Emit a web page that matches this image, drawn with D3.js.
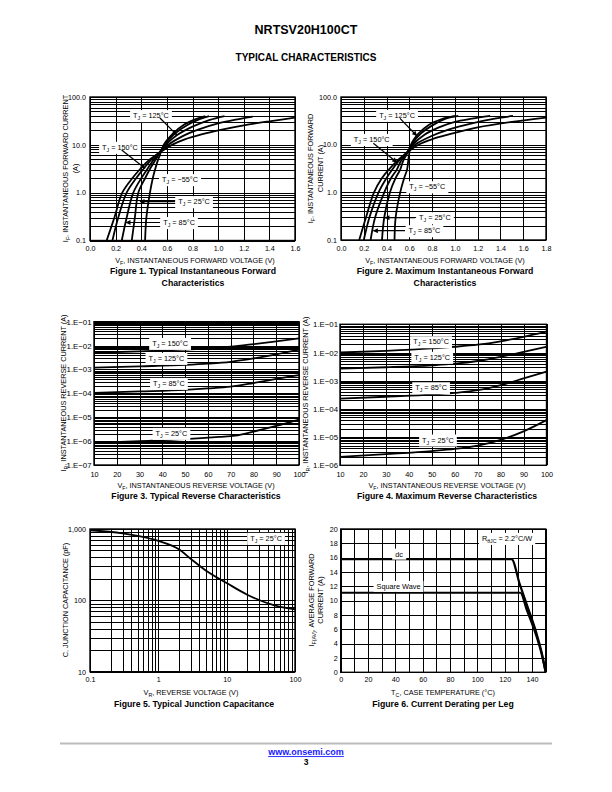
<!DOCTYPE html>
<html><head><meta charset="utf-8">
<script src="https://cdn.jsdelivr.net/npm/d3@7"></script>
<style>
body{margin:0;background:#fff}
svg{display:block}
</style>
</head><body>
<svg id="c" width="612" height="792"></svg>
<script>
// ---------------- DATA ----------------
// Figure 1: typical forward characteristics [VF (V), IF (A)]
const fig1T150 = [[0.13,0.1],[0.19,0.3],[0.252,1],[0.33,2],[0.395,3.2],[0.46,4.8],[0.51,6],[0.64,10],[0.74,13],[0.87,16.5],[1.02,20.5],[1.2,25.5],[1.4,31],[1.6,37]];
const fig1T125 = [[0.175,0.1],[0.22,0.3],[0.286,1],[0.36,2],[0.42,3.2],[0.475,4.8],[0.515,6],[0.61,10],[0.72,15],[0.85,21],[1.0,28],[1.15,34],[1.27,39]];
const fig1T85  = [[0.248,0.1],[0.286,0.3],[0.338,1],[0.40,2],[0.45,3.2],[0.495,4.8],[0.525,6],[0.59,10],[0.68,16],[0.80,24],[0.93,33],[1.05,40]];
const fig1T25  = [[0.326,0.1],[0.35,0.3],[0.377,1],[0.43,2],[0.47,3.2],[0.51,4.8],[0.533,6],[0.58,10],[0.66,17],[0.76,26],[0.86,35],[0.93,40]];
const fig1Tm55 = [[0.43,0.1],[0.44,0.3],[0.468,1],[0.49,2],[0.51,3.2],[0.53,4.8],[0.545,6],[0.575,10],[0.645,17],[0.73,26],[0.82,34],[0.90,40]];
// Figure 2: maximum forward characteristics
const fig2T150 = [[0.16,0.1],[0.22,0.3],[0.29,1],[0.36,2],[0.42,3],[0.49,4.5],[0.55,6],[0.68,10],[0.82,13.5],[0.99,17.5],[1.2,23],[1.5,30],[1.8,37]];
const fig2T125 = [[0.2,0.1],[0.25,0.3],[0.33,1],[0.40,2],[0.45,3],[0.505,4.5],[0.555,6],[0.65,10],[0.79,15],[0.95,21],[1.15,28],[1.35,35],[1.51,40]];
const fig2T85  = [[0.26,0.1],[0.3,0.3],[0.38,1],[0.44,2],[0.49,3],[0.525,4.5],[0.565,6],[0.63,10],[0.73,16],[0.86,23],[1.0,30],[1.15,35],[1.31,40]];
const fig2T25  = [[0.36,0.1],[0.38,0.3],[0.43,1],[0.48,2],[0.52,3],[0.545,4.5],[0.572,6],[0.62,10],[0.70,17],[0.81,26],[0.92,35],[1.03,40]];
const fig2Tm55 = [[0.47,0.1],[0.48,0.3],[0.52,1],[0.555,2],[0.58,3],[0.59,4.5],[0.597,6],[0.615,10],[0.68,17],[0.77,26],[0.88,34],[1.0,40]];
// Figure 3: typical reverse characteristics [VR (V), IR (A)]
const fig3T150 = [[10,5e-3],[30,5.7e-3],[50,6.8e-3],[60,7.6e-3],[70,9e-3],[80,1.15e-2],[90,1.5e-2],[100,2e-2]];
const fig3T125 = [[10,1.2e-3],[30,1.35e-3],[50,1.55e-3],[60,1.75e-3],[70,2.1e-3],[80,2.9e-3],[90,4.3e-3],[100,6.8e-3]];
const fig3T85  = [[10,1.05e-4],[30,1.2e-4],[50,1.4e-4],[60,1.6e-4],[70,1.9e-4],[80,2.7e-4],[90,4e-4],[100,5.8e-4]];
const fig3T25  = [[10,8.5e-7],[30,1e-6],[50,1.2e-6],[65,1.5e-6],[72,1.7e-6],[80,2.5e-6],[90,4.3e-6],[100,8e-6]];
// Figure 4: maximum reverse characteristics
const fig4T150 = [[10,1e-2],[30,1.15e-2],[50,1.4e-2],[60,1.6e-2],[70,1.9e-2],[80,2.5e-2],[90,3.6e-2],[100,5.5e-2]];
const fig4T125 = [[10,2.7e-3],[30,3.0e-3],[50,3.5e-3],[60,4e-3],[70,5e-3],[80,7e-3],[90,1.05e-2],[100,1.6e-2]];
const fig4T85  = [[10,2.3e-4],[30,2.7e-4],[50,3.2e-4],[60,3.7e-4],[70,4.6e-4],[80,7e-4],[90,1.2e-3],[100,2.1e-3]];
const fig4T25  = [[10,2e-6],[30,2.5e-6],[50,3.2e-6],[60,3.8e-6],[70,5e-6],[80,8e-6],[90,1.6e-5],[100,4e-5]];
// Figure 5: junction capacitance [VR (V), C (pF)]
const fig5Cap = [[0.1,960],[0.3,870],[0.5,800],[1,680],[2,520],[3,380],[5,260],[10,175],[20,120],[50,85],[100,75]];
// Figure 6: current derating [TC (°C), IF(AV) (A)]
const fig6Dc     = [[0,15.8],[125,15.8],[131,12.3],[137,9.0],[143,5.6],[147,2.8],[150,0]];
const fig6Square = [[0,11.1],[131.5,11.1],[136,8.8],[140,6.8],[143,5.2],[147,2.6],[150,0]];

// Tick values and labels
const fig1XTicks = [0,0.2,0.4,0.6,0.8,1.0,1.2,1.4,1.6];
const fig1XLabels = ["0.0","0.2","0.4","0.6","0.8","1.0","1.2","1.4","1.6"];
const fig2XTicks = [0,0.2,0.4,0.6,0.8,1.0,1.2,1.4,1.6,1.8];
const fig2XLabels = ["0.0","0.2","0.4","0.6","0.8","1.0","1.2","1.4","1.6","1.8"];
const fwdYTicks = [0.1,1,10,100];
const fwdYLabels = ["0.1","1.0","10.0","100.0"];
const revXTicks = [10,20,30,40,50,60,70,80,90,100];
const revXLabels = ["10","20","30","40","50","60","70","80","90","100"];
const fig3YTicks = [1e-7,1e-6,1e-5,1e-4,1e-3,1e-2,1e-1];
const fig3YLabels = ["1.E\u221207","1.E\u221206","1.E\u221205","1.E\u221204","1.E\u221203","1.E\u221202","1.E\u221201"];
const fig4YTicks = [1e-6,1e-5,1e-4,1e-3,1e-2,1e-1];
const fig4YLabels = ["1.E\u221206","1.E\u221205","1.E\u221204","1.E\u221203","1.E\u221202","1.E\u221201"];
const fig5XTicks = [0.1,1,10,100];
const fig5XLabels = ["0.1","1","10","100"];
const fig5YTicks = [10,100,1000];
const fig5YLabels = ["10","100","1,000"];
const fig6XTicks = [0,20,40,60,80,100,120,140];
const fig6XLabels = ["0","20","40","60","80","100","120","140"];
const fig6YTicks = [0,2,4,6,8,10,12,14,16,18,20];
const fig6YLabels = ["0","2","4","6","8","10","12","14","16","18","20"];

// Annotation positions in data units: [x, y, temperature text]
const fig1Tags = [[0.476,41,"125"],[0.234,8.9,"150"],[0.703,1.88,"\u221255"],[0.812,0.65,"25"],[0.695,0.238,"85"]];
const fig1Arrows = [[0.546,36.4,0.677,16.1],[0.247,7.8,0.429,3.24],[0.664,0.65,0.39,0.65],[0.546,0.238,0.281,0.238]];
const fig2Tags = [[0.492,41.3,"125"],[0.27,12.9,"150"],[0.758,1.31,"\u221255"],[0.825,0.294,"25"],[0.733,0.157,"85"]];
const fig2Arrows = [[0.518,35.7,0.665,15.4],[0.284,10.7,0.489,4.27],[0.65,0.294,0.386,0.294],[0.562,0.157,0.284,0.157]];
const fig3Tags = [[43.4,1.245e-2,"150"],[41.8,2.93e-3,"125"],[42.9,2.63e-4,"85"],[44,2.12e-6,"25"]];
const fig4Tags = [[49.7,2.42e-2,"150"],[50.2,6.76e-3,"125"],[49.7,5.65e-4,"85"],[52.7,7.9e-6,"25"]];
const fig5Tags = [[37.7,741,"25"]];

// ---------------- DRAWING ----------------
const FONT = "'Liberation Sans', Arial, Helvetica, sans-serif";
const svg = d3.select("#c").attr("font-family", FONT);

const defs = svg.append("defs");
defs.append("marker").attr("id","ah").attr("viewBox","0 0 10 10").attr("refX",9).attr("refY",5)
  .attr("markerWidth",6).attr("markerHeight",5).attr("markerUnits","userSpaceOnUse").attr("orient","auto")
  .append("path").attr("d","M0,0L10,5L0,10Z").attr("fill","#000");

function logGrid(lo, hi){
  const out = [];
  for (let e = Math.floor(Math.log10(lo)); e <= Math.ceil(Math.log10(hi)); e++){
    for (let k = 1; k < 10; k++){
      const v = k * Math.pow(10, e);
      if (v >= lo*0.9999 && v <= hi*1.0001) out.push(v);
    }
  }
  return out;
}
function linGrid(lo, hi, step){ return d3.range(lo, hi + step/2, step); }

function rich(sel, parts, size){
  let prevSub = false;
  parts.forEach(p => {
    const ts = sel.append("tspan").text(p[0]);
    const sub = !!p[1];
    if (sub){ ts.attr("font-size", size*0.72).attr("dy", size*0.28); }
    else if (prevSub){ ts.attr("font-size", size).attr("dy", -size*0.28); }
    prevSub = sub;
  });
  return sel;
}

function tag(g, px, py, parts, size, padX, padY){
  const t = g.append("text").attr("x", px).attr("y", py).attr("dy","0.35em")
    .attr("text-anchor","middle").attr("font-size", size).attr("fill","#000");
  rich(t, parts, size);
  const bb = t.node().getBBox();
  g.insert("rect", () => t.node())
    .attr("x", bb.x - padX).attr("y", bb.y - padY)
    .attr("width", bb.width + 2*padX).attr("height", bb.height + 2*padY)
    .attr("fill","#fff");
}

function panel(o){
  const g = svg.append("g");
  const W = o.x1 - o.x0, H = o.y1 - o.y0;
  const x = o.xs, y = o.ys;
  const clipId = "clip" + o.id;
  defs.append("clipPath").attr("id", clipId).append("rect")
    .attr("x", o.x0).attr("y", o.y0).attr("width", W).attr("height", H);

  // grid lines (axes with full-length ticks)
  const gx = g.append("g").attr("transform", `translate(0,${o.y1})`)
    .call(d3.axisBottom(x).tickValues(o.xGrid).tickSize(-H).tickFormat(""));
  const gy = g.append("g").attr("transform", `translate(${o.x0},0)`)
    .call(d3.axisLeft(y).tickValues(o.yGrid).tickSize(-W).tickFormat(""));
  [gx, gy].forEach(a => {
    a.select(".domain").remove();
    a.selectAll("line").attr("stroke","#000").attr("stroke-width",1).attr("shape-rendering","crispEdges");
  });

  // tick labels
  const lx = g.append("g").attr("transform", `translate(0,${o.y1})`)
    .call(d3.axisBottom(x).tickValues(o.xTicks).tickSize(0).tickPadding(o.xPad)
      .tickFormat(d => o.xLabels[o.xTicks.indexOf(d)]));
  const ly = g.append("g").attr("transform", `translate(${o.x0},0)`)
    .call(d3.axisLeft(y).tickValues(o.yTicks).tickSize(0).tickPadding(o.yPad)
      .tickFormat(d => o.yLabels[o.yTicks.indexOf(d)]));
  lx.selectAll("text").attr("font-size", o.xFs).attr("font-family", FONT).attr("fill","#000");
  ly.selectAll("text").attr("font-size", o.yFs).attr("font-family", FONT).attr("fill","#000");
  [lx, ly].forEach(a => { a.select(".domain").remove(); a.selectAll("line").remove(); a.attr("font-family", FONT); });

  // curves
  const line = d3.line().x(d => x(d[0])).y(d => y(d[1])).curve(o.curve || d3.curveMonotoneX);
  const cg = g.append("g").attr("clip-path", `url(#${clipId})`);
  o.curves.forEach(c => {
    cg.append("path").datum(c).attr("d", line).attr("fill","none")
      .attr("stroke","#000").attr("stroke-width", o.cw || 1.8).attr("stroke-linejoin","round");
  });

  // tags
  (o.tags || []).forEach(t => tag(g, x(t[0]), y(t[1]), t[2], o.tagFs || 7.3, 3, 1));
  (o.arrows || []).forEach(a => {
    g.append("line").attr("x1", x(a[0])).attr("y1", y(a[1])).attr("x2", x(a[2])).attr("y2", y(a[3]))
      .attr("stroke","#000").attr("stroke-width",1.2).attr("marker-end","url(#ah)");
  });

  // frame
  g.append("rect").attr("x", o.x0).attr("y", o.y0).attr("width", W).attr("height", H)
    .attr("fill","none").attr("stroke","#000").attr("stroke-width",1.4);

  // axis titles
  o.yTitle.forEach(l => {
    const t = g.append("text").attr("transform", `translate(${l.x},${o.yTitleY}) rotate(-90)`)
      .attr("text-anchor","middle").attr("dy","0.35em").attr("font-size",7.3).attr("fill","#000");
    rich(t, l.parts, 7.3);
  });
  const xt = g.append("text").attr("x", o.xTitle.x).attr("y", o.xTitle.y).attr("dy","0.35em")
    .attr("text-anchor","middle").attr("font-size",7.3).attr("fill","#000");
  rich(xt, o.xTitle.parts, 7.3);
  o.caption.forEach(c => {
    g.append("text").attr("x", c.x).attr("y", c.y).attr("dy","0.35em").attr("text-anchor","middle")
      .attr("font-size",8.7).attr("font-weight","bold").attr("fill","#000").text(c.t);
  });
}

const tj = s => [["T"],["J",1],[" = " + s + "\u00B0C"]];
const smooth = d3.curveCatmullRom.alpha(0.5);

// Figure 1
panel({id:1, x0:90, x1:295, y0:97, y1:240.5,
  xs: d3.scaleLinear().domain([0,1.6]).range([90,295]),
  ys: d3.scaleLog().domain([0.1,100]).range([240.5,97]),
  xGrid: linGrid(0,1.6,0.2), yGrid: logGrid(0.1,100),
  xTicks: fig1XTicks, xLabels: fig1XLabels, yTicks: fwdYTicks, yLabels: fwdYLabels,
  xPad:5, yPad:4, xFs:7.2, yFs:7.2, curve: smooth,
  curves:[fig1T150, fig1T125, fig1T85, fig1T25, fig1Tm55],
  tags: fig1Tags.map(t => [t[0], t[1], tj(t[2])]), arrows: fig1Arrows,
  yTitleY:168.5,
  yTitle:[{x:65.3, parts:[["I"],["F",1],[", INSTANTANEOUS FORWARD CURRENT"]]},{x:75, parts:[["(A)"]]}],
  xTitle:{x:195, y:260, parts:[["V"],["F",1],[", INSTANTANEOUS FORWARD VOLTAGE (V)"]]},
  caption:[{x:193, y:271, t:"Figure 1. Typical Instantaneous Forward"},{x:193, y:283, t:"Characteristics"}]
});

// Figure 2
panel({id:2, x0:341, x1:546, y0:97, y1:240,
  xs: d3.scaleLinear().domain([0,1.8]).range([341,546]),
  ys: d3.scaleLog().domain([0.1,100]).range([240,97]),
  xGrid: linGrid(0,1.8,0.2), yGrid: logGrid(0.1,100),
  xTicks: fig2XTicks, xLabels: fig2XLabels, yTicks: fwdYTicks, yLabels: fwdYLabels,
  xPad:5.5, yPad:4, xFs:7.2, yFs:7.2, curve: smooth,
  curves:[fig2T150, fig2T125, fig2T85, fig2T25, fig2Tm55],
  tags: fig2Tags.map(t => [t[0], t[1], tj(t[2])]), arrows: fig2Arrows,
  yTitleY:168.5,
  yTitle:[{x:310, parts:[["I"],["F",1],[", INSTANTANEOUS FORWARD"]]},{x:320, parts:[["CURRENT (A)"]]}],
  xTitle:{x:445, y:260, parts:[["V"],["F",1],[", INSTANTANEOUS FORWARD VOLTAGE (V)"]]},
  caption:[{x:445, y:271, t:"Figure 2. Maximum Instantaneous Forward"},{x:445, y:283, t:"Characteristics"}]
});

// Figure 3
panel({id:3, x0:94, x1:299, y0:321.7, y1:465,
  xs: d3.scaleLinear().domain([10,100]).range([94,299]),
  ys: d3.scaleLog().domain([1e-7,1e-1]).range([465,321.7]),
  xGrid: linGrid(10,100,10), yGrid: logGrid(1e-7,1e-1),
  xTicks: revXTicks, xLabels: revXLabels, yTicks: fig3YTicks, yLabels: fig3YLabels,
  xPad:6.5, yPad:2.5, xFs:7.3, yFs:7.8,
  curves:[fig3T150, fig3T125, fig3T85, fig3T25],
  tags: fig3Tags.map(t => [t[0], t[1], tj(t[2])]),
  yTitleY:393,
  yTitle:[{x:63, parts:[["I"],["R",1],[", INSTANTANEOUS REVERSE CURRENT (A)"]]}],
  xTitle:{x:196, y:485.5, parts:[["V"],["F",1],[", INSTANTANEOUS REVERSE VOLTAGE (V)"]]},
  caption:[{x:196, y:495.5, t:"Figure 3. Typical Reverse Characteristics"}]
});

// Figure 4
panel({id:4, x0:340, x1:546.5, y0:324.3, y1:465.3,
  xs: d3.scaleLinear().domain([10,100]).range([340,546.5]),
  ys: d3.scaleLog().domain([1e-6,1e-1]).range([465.3,324.3]),
  xGrid: linGrid(10,100,10), yGrid: logGrid(1e-6,1e-1),
  xTicks: revXTicks, xLabels: revXLabels, yTicks: fig4YTicks, yLabels: fig4YLabels,
  xPad:6.3, yPad:2, xFs:7.3, yFs:7.8,
  curves:[fig4T150, fig4T125, fig4T85, fig4T25],
  tags: fig4Tags.map(t => [t[0], t[1], tj(t[2])]),
  yTitleY:395,
  yTitle:[{x:305, parts:[["I"],["R",1],[", INSTANTANEOUS REVERSE CURRENT (A)"]]}],
  xTitle:{x:447, y:485.5, parts:[["V"],["F",1],[", INSTANTANEOUS REVERSE VOLTAGE (V)"]]},
  caption:[{x:447, y:495.5, t:"Figure 4. Maximum Reverse Characteristics"}]
});

// Figure 5
panel({id:5, x0:90, x1:295, y0:529, y1:671.7,
  xs: d3.scaleLog().domain([0.1,100]).range([90,295]),
  ys: d3.scaleLog().domain([10,1000]).range([671.7,529]),
  xGrid: logGrid(0.1,100), yGrid: logGrid(10,1000),
  xTicks: fig5XTicks, xLabels: fig5XLabels, yTicks: fig5YTicks, yLabels: fig5YLabels,
  xPad:4.8, yPad:4, xFs:7.2, yFs:7.2,
  curves:[fig5Cap],
  tags: fig5Tags.map(t => [t[0], t[1], tj(t[2])]),
  yTitleY:600,
  yTitle:[{x:65, parts:[["C, JUNCTION CAPACITANCE (pF)"]]}],
  xTitle:{x:191, y:692, parts:[["V"],["R",1],[", REVERSE VOLTAGE (V)"]]},
  caption:[{x:194, y:704, t:"Figure 5. Typical Junction Capacitance"}]
});

// Figure 6
panel({id:6, x0:340.7, x1:545.7, y0:529, y1:672.3,
  xs: d3.scaleLinear().domain([0,150]).range([340.7,545.7]),
  ys: d3.scaleLinear().domain([0,20]).range([672.3,529]),
  xGrid: linGrid(0,150,10), yGrid: linGrid(0,20,2),
  xTicks: fig6XTicks, xLabels: fig6XLabels, yTicks: fig6YTicks, yLabels: fig6YLabels,
  xPad:4.2, yPad:3, xFs:7.2, yFs:7.2, cw:2.2,
  curves:[fig6Dc, fig6Square],
  tags:[[42.7,16.5,[["dc"]]],[42.3,12.0,[["Square Wave"]]],[121.7,18.7,[["R"],["\u03B8JC",1],[" = 2.2\u00B0C/W"]]]],
  yTitleY:600,
  yTitle:[{x:311.3, parts:[["I"],["F(AV)",1],[", AVERAGE FORWARD"]]},{x:320, parts:[["CURRENT (A)"]]}],
  xTitle:{x:443, y:692, parts:[["T"],["C",1],[", CASE TEMPERATURE (\u00B0C)"]]},
  caption:[{x:443, y:704, t:"Figure 6. Current Derating per Leg"}]
});

// Header & footer
svg.append("text").attr("x",306).attr("y",30).attr("dy","0.35em").attr("text-anchor","middle")
  .attr("font-size",12.5).attr("font-weight","bold").text("NRTSV20H100CT");
svg.append("text").attr("x",306).attr("y",57).attr("dy","0.35em").attr("text-anchor","middle")
  .attr("font-size",10).attr("font-weight","bold").text("TYPICAL CHARACTERISTICS");
svg.append("line").attr("x1",60).attr("x2",552).attr("y1",743.5).attr("y2",743.5)
  .attr("stroke","#bcbcbc").attr("stroke-width",2);
svg.append("text").attr("x",306).attr("y",752).attr("dy","0.35em").attr("text-anchor","middle")
  .attr("font-size",9).attr("font-weight","bold").attr("fill","#1a1aff")
  .attr("text-decoration","underline").text("www.onsemi.com");
svg.append("text").attr("x",306).attr("y",762).attr("dy","0.35em").attr("text-anchor","middle")
  .attr("font-size",8.5).attr("font-weight","bold").text("3");
</script>
</body></html>
